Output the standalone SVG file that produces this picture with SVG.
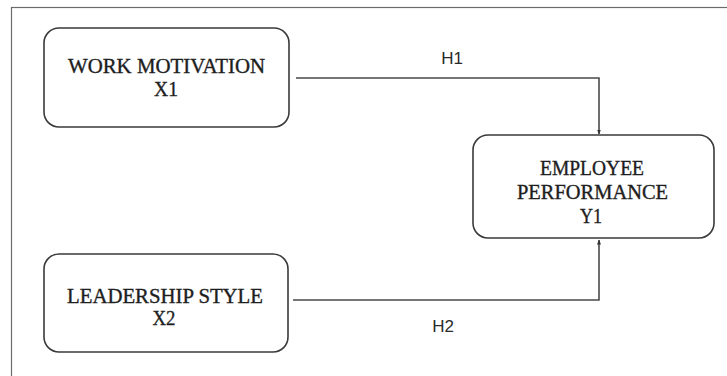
<svg xmlns="http://www.w3.org/2000/svg" width="727" height="376" viewBox="0 0 727 376">
  <defs>
    <style>
      .frame { fill: none; stroke: #6b6b6b; stroke-width: 1.2; }
      .box { fill: #ffffff; stroke: #3a3a3a; stroke-width: 1.6; }
      .lbl { font-family: "Liberation Serif", "Times New Roman", serif; font-size: 20px; fill: #1e1e1e; stroke: #1e1e1e; stroke-width: 0.35; text-anchor: middle; }
      .hyp { font-family: "Liberation Sans", Arial, sans-serif; font-size: 17px; fill: #2a2a2a; text-anchor: middle; }
      .conn { fill: none; stroke: #4a4a4a; stroke-width: 1.6; }
    </style>
    <marker id="arrow" viewBox="0 0 10 10" refX="9" refY="5" markerWidth="5" markerHeight="5" orient="auto" markerUnits="userSpaceOnUse">
      <path d="M0,1 L10,5 L0,9 z" fill="#333333"/>
    </marker>
  </defs>
  <rect x="0" y="0" width="727" height="376" fill="#ffffff"/>
  <rect class="frame" x="11.5" y="7.5" width="800" height="500"/>

  <g id="connectors">
    <path class="conn" d="M296,78 H599 V134" marker-end="url(#arrow)" stroke-width="1.4"/>
    <path class="conn" d="M293,300 H599 V240" marker-end="url(#arrow)" stroke-width="2"/>
    <text class="hyp" x="452" y="63.5">H1</text>
    <text class="hyp" x="443" y="332">H2</text>
  </g>

  <g id="work-motivation">
    <rect class="box" x="44" y="28" width="245" height="99" rx="15" ry="15"/>
    <text class="lbl" x="166.5" y="73" textLength="197" lengthAdjust="spacingAndGlyphs">WORK MOTIVATION</text>
    <text class="lbl" x="166" y="95.5" textLength="24" lengthAdjust="spacingAndGlyphs">X1</text>
  </g>

  <g id="leadership-style">
    <rect class="box" x="44" y="254" width="244" height="98" rx="15" ry="15"/>
    <text class="lbl" x="165" y="302.5" textLength="196" lengthAdjust="spacingAndGlyphs">LEADERSHIP STYLE</text>
    <text class="lbl" x="164" y="324.5" textLength="23" lengthAdjust="spacingAndGlyphs">X2</text>
  </g>

  <g id="employee-performance">
    <rect class="box" x="473" y="135" width="241" height="103" rx="15" ry="15"/>
    <text class="lbl" x="592" y="175" textLength="104" lengthAdjust="spacingAndGlyphs">EMPLOYEE</text>
    <text class="lbl" x="592.5" y="198.5" textLength="151" lengthAdjust="spacingAndGlyphs">PERFORMANCE</text>
    <text class="lbl" x="591" y="223" textLength="22" lengthAdjust="spacingAndGlyphs">Y1</text>
  </g>
</svg>
